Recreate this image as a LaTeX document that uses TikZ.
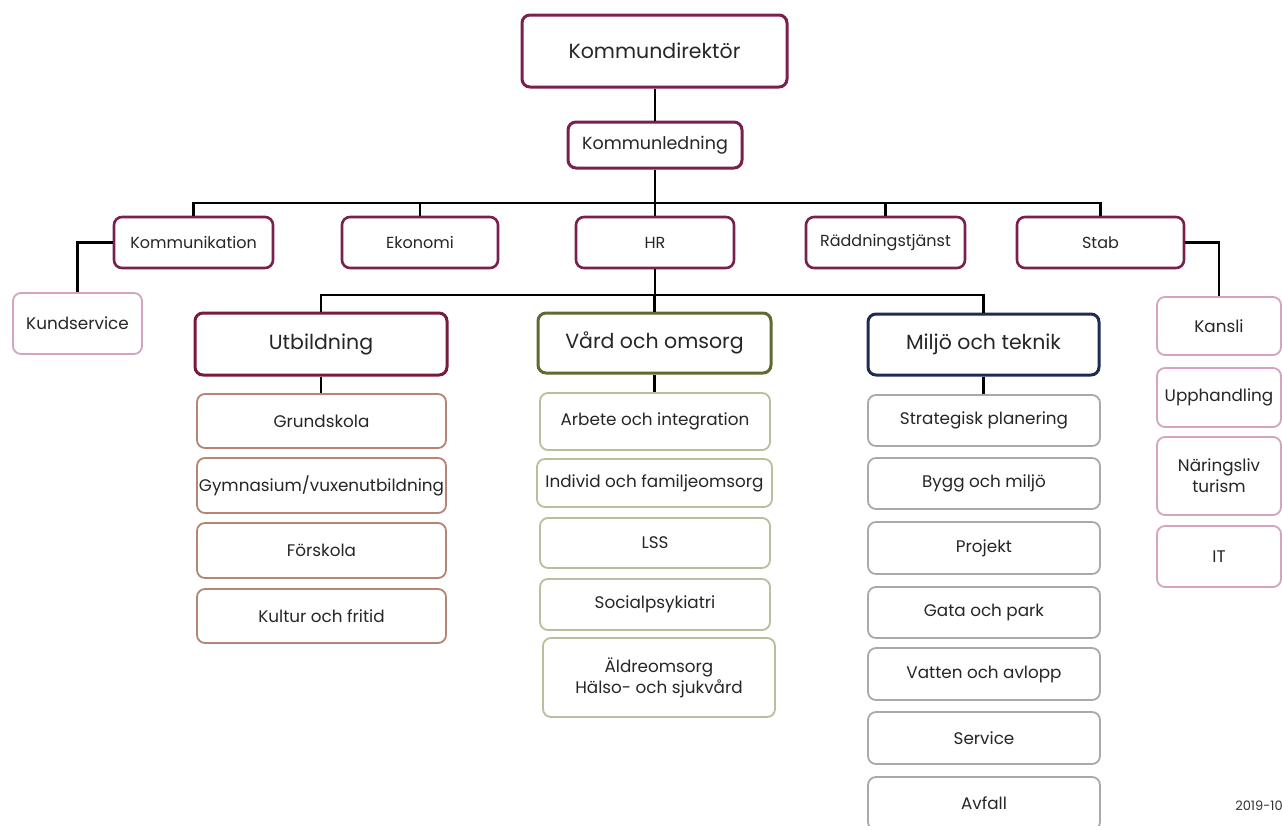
\documentclass[tikz,border=0pt]{standalone}
\usepackage{fontspec}
\setmainfont{Poppins}
\usetikzlibrary{calc}
\definecolor{cmaroon}{HTML}{7A1F4E}
\definecolor{cred}{HTML}{7A1A38}
\definecolor{colive}{HTML}{5E6A30}
\definecolor{cnavy}{HTML}{1E2C50}
\definecolor{cbrown}{HTML}{B58474}
\definecolor{clolive}{HTML}{B9BE9C}
\definecolor{cgray}{HTML}{A9A9A9}
\definecolor{cpink}{HTML}{D6A3BE}
\tikzset{
  base/.style={rounded corners=8pt, fill=white, align=center, inner sep=0pt, text=black!85},
  topbox/.style={base, draw=cmaroon, line width=3pt},
  midbox/.style={base, draw=cmaroon, line width=2.6pt, font=\fontsize{16}{19}\selectfont},
  headbox/.style={base, line width=3pt, font=\fontsize{20.5}{24}\selectfont},
  subbox/.style={base, line width=1.8pt, font=\fontsize{16.8}{21}\selectfont},
  conn/.style={line width=2.2pt, black}
}
\newcommand\bx[7]{\node[#6, minimum width={#4-#2}, minimum height={#5-#3}] (#1) at ({(#2+#4)/2},{(#3+#5)/2}) {#7};}
\begin{document}
\begin{tikzpicture}[x=1pt,y=-1pt]
\useasboundingbox (0,0) rectangle (1282,825);
% top
\bx{kd}{522}{15}{787}{87}{topbox, font=\fontsize{20.5}{24}\selectfont}{Kommundirektör}
\bx{kl}{568}{122}{742}{168}{topbox, font=\fontsize{17.5}{20}\selectfont}{Kommunledning}
% level 2
\bx{kom}{114}{217}{273}{268}{midbox}{Kommunikation}
\bx{eko}{342}{217}{498}{268}{midbox}{Ekonomi}
\bx{hr}{576}{217}{734}{268}{midbox}{HR}
\bx{rad}{806}{217}{965}{268}{midbox}{Räddningstjänst}
\bx{stab}{1017}{217}{1184}{268}{midbox}{Stab}
% side boxes
\bx{ks}{13}{293}{142}{354}{subbox, draw=cpink}{Kundservice}
\bx{kan}{1157}{297}{1281}{355}{subbox, draw=cpink}{Kansli}
\bx{upp}{1157}{368}{1281}{427}{subbox, draw=cpink}{Upphandling}
\bx{nar}{1157}{437}{1281}{515}{subbox, draw=cpink}{Näringsliv\\turism}
\bx{it}{1157}{526}{1281}{587}{subbox, draw=cpink}{IT}
% heads
\bx{utb}{195}{313}{447}{375}{headbox, draw=cred}{Utbildning}
\bx{vard}{538}{313}{771}{373}{headbox, draw=colive}{Vård och omsorg}
\bx{mil}{868}{314}{1099}{375}{headbox, draw=cnavy}{Miljö och teknik}
% Utbildning
\bx{u1}{197}{394}{446}{448}{subbox, draw=cbrown}{Grundskola}
\bx{u2}{197}{458}{446}{513}{subbox, draw=cbrown}{Gymnasium/vuxenutbildning}
\bx{u3}{197}{523}{446}{578}{subbox, draw=cbrown}{Förskola}
\bx{u4}{197}{589}{446}{643}{subbox, draw=cbrown}{Kultur och fritid}
% Vard
\bx{v1}{540}{393}{770}{450}{subbox, draw=clolive}{Arbete och integration}
\bx{v2}{537}{459}{772}{507}{subbox, draw=clolive}{Individ och familjeomsorg}
\bx{v3}{540}{518}{770}{568}{subbox, draw=clolive}{LSS}
\bx{v4}{540}{579}{770}{630}{subbox, draw=clolive}{Socialpsykiatri}
\bx{v5}{543}{638}{775}{717}{subbox, draw=clolive}{Äldreomsorg\\Hälso- och sjukvård}
% Miljo
\bx{m1}{868}{395}{1100}{446}{subbox, draw=cgray}{Strategisk planering}
\bx{m2}{868}{458}{1100}{509}{subbox, draw=cgray}{Bygg och miljö}
\bx{m3}{868}{522}{1100}{574}{subbox, draw=cgray}{Projekt}
\bx{m4}{868}{587}{1100}{638}{subbox, draw=cgray}{Gata och park}
\bx{m5}{868}{648}{1100}{700}{subbox, draw=cgray}{Vatten och avlopp}
\bx{m6}{868}{712}{1100}{764}{subbox, draw=cgray}{Service}
\bx{m7}{868}{777}{1100}{830}{subbox, draw=cgray}{Avfall}
\node[anchor=east, font=\fontsize{13}{15}\selectfont, text=black!80, inner sep=0pt] (date) at (1283,806) {2019-10};
% connectors
\coordinate (b1) at (655,203);
\coordinate (b2) at (655,295);
\draw[conn] (kd.south -| b1) -- (kl.north -| b1);
\draw[conn] (kl.south -| b1) -- (b1);
\draw[conn] (kom.north) |- (b1) -| (stab.north);
\draw[conn] (eko.north) -- (eko.north |- b1);
\draw[conn] (hr.north) -- (hr.north |- b1);
\draw[conn] (rad.north) -- (rad.north |- b1);
\draw[conn] (kom.west) -| (ks.north);
\draw[conn] (stab.east) -| (kan.north);
\draw[conn] (hr.south) -- (b2);
\draw[conn] (utb.north) |- (b2) -| (mil.north);
\draw[conn] (vard.north) -- (vard.north |- b2);
\draw[conn] (utb.south) -- (utb.south |- u1.north);
\draw[conn] (vard.south) -- (vard.south |- v1.north);
\draw[conn] (mil.south) -- (mil.south |- m1.north);
\end{tikzpicture}
\end{document}
